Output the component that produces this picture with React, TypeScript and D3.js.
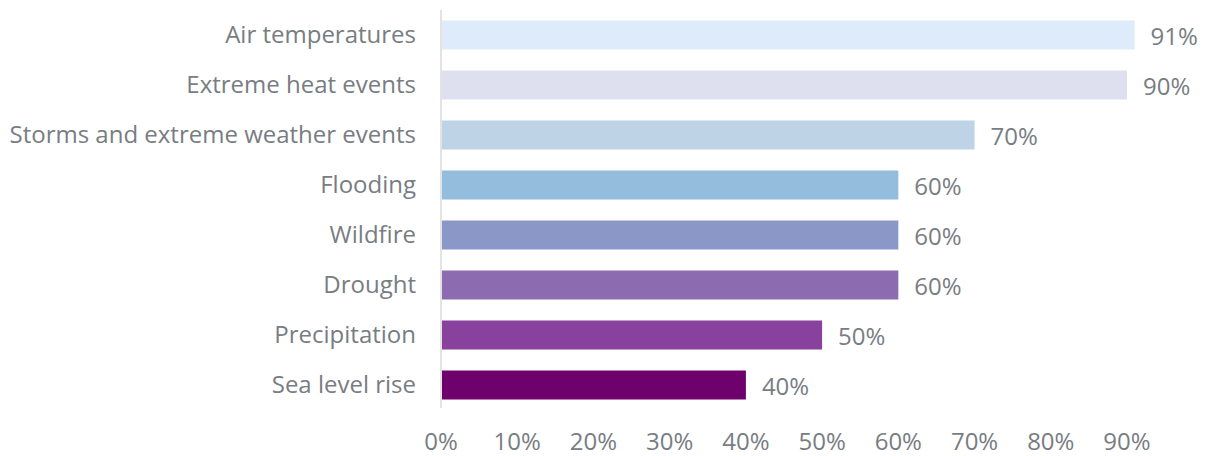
import { useEffect, useRef } from 'react'
import * as d3 from 'd3'

const categories = [
  'Air temperatures',
  'Extreme heat events',
  'Storms and extreme weather events',
  'Flooding',
  'Wildfire',
  'Drought',
  'Precipitation',
  'Sea level rise',
]
const values = [91, 90, 70, 60, 60, 60, 50, 40]
const barColors = ['#ddebfb', '#dfe0ef', '#bfd3e7', '#94bcdc', '#8b98c7', '#8c6bb1', '#88419d', '#6e016b']
const ticks = [0, 10, 20, 30, 40, 50, 60, 70, 80, 90]

const W = 1208
const H = 456
const FONT = '"Open Sans", sans-serif'
const GREY = '#787d82'

export default function App() {
  const svgRef = useRef<SVGSVGElement>(null)

  useEffect(() => {
    if (!svgRef.current) return
    const svg = d3.select(svgRef.current)
    svg.selectAll('*').remove()

    const x = d3.scaleLinear().domain([0, 90]).range([441, 1127])
    const y = d3.scaleBand<string>().domain(categories).range([10, 410]).paddingInner(0.42).paddingOuter(0.21)

    // axis line
    svg.append('line')
      .attr('x1', x(0)).attr('x2', x(0))
      .attr('y1', 10).attr('y2', 408)
      .attr('stroke', '#e3e3e3').attr('stroke-width', 2)

    // bars
    svg.append('g').selectAll('rect')
      .data(categories)
      .join('rect')
      .attr('x', x(0) + 1)
      .attr('y', d => y(d)!)
      .attr('width', (_, i) => x(values[i]) - x(0) - 1)
      .attr('height', y.bandwidth())
      .attr('fill', (_, i) => barColors[i])

    // category labels
    svg.append('g').selectAll('text')
      .data(categories)
      .join('text')
      .attr('x', 416)
      .attr('y', d => y(d)! + y.bandwidth() / 2)
      .attr('dy', '0.35em')
      .attr('text-anchor', 'end')
      .attr('font-family', FONT)
      .attr('font-size', 24)
      .attr('fill', GREY)
      .text(d => d)

    // value labels
    svg.append('g').selectAll('text')
      .data(categories)
      .join('text')
      .attr('x', (_, i) => x(values[i]) + 16)
      .attr('y', d => y(d)! + y.bandwidth() / 2 + 2)
      .attr('dy', '0.35em')
      .attr('font-family', FONT)
      .attr('font-size', 24)
      .attr('fill', GREY)
      .text((_, i) => `${values[i]}%`)

    // x tick labels
    svg.append('g').selectAll('text')
      .data(ticks)
      .join('text')
      .attr('x', d => x(d))
      .attr('y', 450)
      .attr('text-anchor', 'middle')
      .attr('font-family', FONT)
      .attr('font-size', 24)
      .attr('fill', GREY)
      .text(d => `${d}%`)
  }, [])

  return (
    <div style={{ position: 'absolute', left: 0, top: 0 }}>
      <svg ref={svgRef} width={W} height={H} style={{ display: 'block', background: '#fff' }} />
    </div>
  )
}
